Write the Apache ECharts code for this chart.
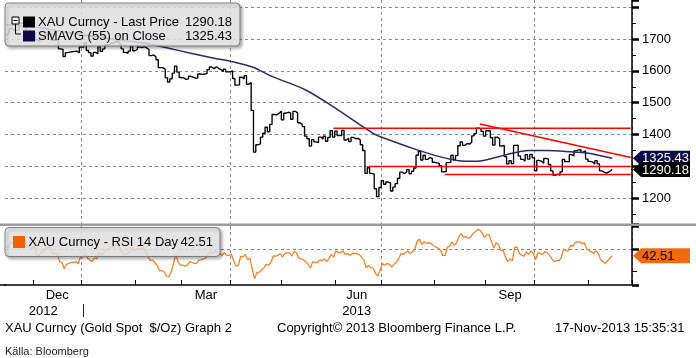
<!DOCTYPE html>
<html><head><meta charset="utf-8">
<script src="https://cdn.jsdelivr.net/npm/echarts@6/dist/echarts.min.js"></script>
<style>html,body{margin:0;padding:0;background:#fff}#c{width:696px;height:358px}</style>
</head><body><div id="c"></div>
<script>
// ---------- DATA ----------
const startDate = '2012-11-15';
const endDate = '2013-11-27';
// daily closes (weekdays)
const closeNov12 = [1714,1714,1733,1727,1728,1728,1751,1748,1742,1717,1727,1712];
const closeDec12 = [1720,1697,1693,1702,1704,1712,1716,1717,1696,1696,1697,1669,1667,1645,1657,1659,1660,1661,1662,1656,1675];
const closeJan13 = [1675,1688,1664,1657,1646,1658,1654,1676,1661,1669,1682,1683,1688,1687,1692,1692,1685,1669,1658,1655,1662,1676,1663];
const closeFeb13 = [1668,1675,1673,1676,1672,1667,1648,1650,1644,1635,1610,1610,1605,1578,1565,1575,1593,1615,1596,1579];
const closeMar13 = [1578,1573,1575,1583,1580,1577,1577,1590,1589,1590,1592,1604,1612,1607,1613,1608,1604,1598,1605,1597,1597];
const closeApr13 = [1600,1576,1555,1556,1580,1575,1585,1558,1563,1476,1345,1368,1371,1392,1404,1423,1409,1432,1463,1462,1467,1473];
const closeMay13 = [1446,1467,1470,1468,1448,1473,1468,1437,1433,1425,1395,1387,1364,1384,1377,1375,1392,1386,1395,1379,1391,1412,1392];
const closeJun13 = [1411,1397,1397,1413,1383,1388,1378,1391,1387,1388,1383,1368,1350,1278,1296,1278,1276,1230,1205,1234];
const closeJul13 = [1255,1244,1251,1248,1223,1235,1246,1263,1282,1277,1283,1290,1277,1285,1295,1335,1347,1320,1335,1322,1328,1325,1313];
const closeAug13 = [1311,1310,1302,1283,1284,1312,1313,1335,1321,1334,1365,1377,1366,1372,1370,1376,1396,1403,1420,1418,1410,1395];
const closeSep13 = [1412,1412,1390,1367,1392,1387,1364,1366,1331,1308,1318,1309,1366,1367,1333,1322,1317,1337,1323,1338,1327];
const closeOct13 = [1286,1319,1316,1310,1325,1323,1306,1286,1272,1276,1273,1283,1322,1315,1315,1337,1333,1349,1352,1353,1345,1349,1323];
const closeNov13 = [1316,1314,1308,1318,1308,1286,1282,1279,1283,1287,1290.18];

// SMAVG(55) read at selected dates
const maDates  = ['2012-11-15','2012-12-03','2012-12-17','2013-01-02','2013-01-15','2013-01-28','2013-02-08','2013-02-21','2013-03-06','2013-03-19','2013-04-02','2013-04-12','2013-04-25','2013-05-15','2013-06-04','2013-06-25','2013-07-04','2013-07-22','2013-08-05','2013-08-15','2013-08-26','2013-09-02','2013-09-12','2013-09-26','2013-10-08','2013-10-22','2013-10-31','2013-11-07','2013-11-15'];
const maValues = [1745,1738,1726,1712,1703,1694,1685,1671,1656,1642,1628,1612,1581,1540,1477,1404,1383,1352,1330,1318,1316,1321,1336,1350,1350,1346,1342,1335,1325.43];

// RSI 14 day
const rsiNov12 = [52,52,58,56,56,56,63,62,60,52,55,50];
const rsiDec12 = [53,44,42,46,47,50,52,52,45,45,45,36,35,28,33,34,35,35,36,34,41];
const rsiJan13 = [41,46,40,38,36,40,39,46,43,45,49,50,52,52,54,54,51,46,44,44,47,51,48];
const rsiFeb13 = [49,51,50,51,48,42,37,38,35,32,26,26,25,20,19,24,33,44,36,32];
const rsiMar13 = [32,31,32,36,35,34,34,38,38,39,40,44,47,45,48,46,45,43,46,43,43];
const rsiApr13 = [44,37,31,32,42,41,44,38,40,27,17,24,24,27,29,33,32,35,42,42,43,45];
const rsiMay13 = [41,45,46,46,42,47,46,40,39,38,36,33,29,36,35,35,38,37,39,36,39,44,41];
const rsiJun13 = [48,46,46,48,44,45,43,45,45,45,44,41,38,29,32,29,29,23,20,26];
const rsiJul13 = [34,32,34,33,30,33,35,39,45,44,46,48,45,47,50,59,61,55,58,56,57,56,54];
const rsiAug13 = [52,51,49,43,43,52,53,58,54,57,64,67,63,64,62,63,67,69,72,71,68,63];
const rsiSep13 = [66,66,58,51,57,55,48,49,41,36,39,37,52,52,45,43,42,47,44,48,45];
const rsiOct13 = [38,46,45,44,47,46,43,39,36,37,37,40,50,48,48,54,53,57,58,58,56,57,50];
const rsiNov13 = [48,47,45,48,45,38,36,34,37,40,42.51];

// red study lines (date, price)
const levelTopDates = ['2013-05-31','2013-11-27'];   const levelTopValues = [1420,1420];
const levelMidDates = ['2013-06-21','2013-11-27'];   const levelMidValues = [1300,1300];
const levelLowDates = ['2013-08-07','2013-11-27'];   const levelLowValues = [1275,1275];
const trendDates    = ['2013-08-28','2013-11-27'];   const trendValues    = [1433,1328];

// axis labels
const monthLabelDates = ['2012-12-17','2013-03-15','2013-06-14','2013-09-16'];
const monthLabelTexts = ['Dec','Mar','Jun','Sep'];
const yearLabelDates  = ['2012-12-07','2013-06-14'];
const yearLabelTexts  = ['2012','2013'];
const yearBoundaryDate = '2013-01-01';

// ---------- BUILD ----------
function weekdays(s, e){
  const out=[]; let d=new Date(s+'T00:00:00Z'); const end=new Date(e+'T00:00:00Z');
  while(d<=end){ const w=d.getUTCDay(); if(w!==0&&w!==6) out.push(d.toISOString().slice(0,10)); d=new Date(d.getTime()+86400000); }
  return out;
}
const cats = weekdays(startDate, endDate);
const idx = {}; cats.forEach((d,i)=>idx[d]=i);
const closes = [].concat(closeNov12,closeDec12,closeJan13,closeFeb13,closeMar13,closeApr13,closeMay13,closeJun13,closeJul13,closeAug13,closeSep13,closeOct13,closeNov13);
const rsi = [].concat(rsiNov12,rsiDec12,rsiJan13,rsiFeb13,rsiMar13,rsiApr13,rsiMay13,rsiJun13,rsiJul13,rsiAug13,rsiSep13,rsiOct13,rsiNov13);
const pairs = (ds, vs) => ds.map((d,i)=>[idx[d], vs[i]]);

const monthStart = i => i>0 && cats[i].slice(5,7)!==cats[i-1].slice(5,7);
const quarterStart = i => monthStart(i) && ['01','04','07','10'].indexOf(cats[i].slice(5,7))>=0;
const monthLabelMap = {}; monthLabelDates.forEach((d,i)=>monthLabelMap[idx[d]]=monthLabelTexts[i]);
const yearLabelMap = {}; yearLabelDates.forEach((d,i)=>yearLabelMap[idx[d]]=yearLabelTexts[i]);
const yearBoundaryIdx = idx[yearBoundaryDate];

const FONT = "'Liberation Sans', Arial, sans-serif";
const gridDash = {type:[3,3], color:'#8a8a8a', width:1};

const chart = echarts.init(document.getElementById('c'));
const redLine = (ds, vs) => ({type:'line', xAxisIndex:0, yAxisIndex:0, data: pairs(ds, vs), symbol:'none', silent:true,
  lineStyle:{color:'#ff0000', width:1.5}, z:6, animation:false});

chart.setOption({
  animation:false,
  textStyle:{fontFamily:FONT},
  grid:[
    {left:5, right:64, top:0, height:224},
    {left:5, right:64, top:226, height:59}
  ],
  xAxis:[
    {gridIndex:0, type:'category', data:cats, boundaryGap:true,
     axisLine:{show:false}, axisTick:{show:false}, axisLabel:{show:false},
     splitLine:{show:true, interval:(i)=>quarterStart(i), lineStyle:gridDash}},
    {gridIndex:1, type:'category', data:cats, boundaryGap:true, position:'bottom',
     axisLine:{show:true, lineStyle:{color:'#000', width:1.5}},
     axisTick:{show:true, inside:true, length:5, interval:(i)=>monthStart(i), lineStyle:{color:'#000', width:1}},
     axisLabel:{show:true, interval:(i)=>monthLabelMap[i]!==undefined, formatter:(v,i)=>monthLabelMap[i]||'',
       color:'#000', fontSize:13, fontFamily:FONT, margin:3, lineHeight:15},
     splitLine:{show:true, interval:(i)=>quarterStart(i), lineStyle:gridDash}},
    {gridIndex:1, type:'category', data:cats, boundaryGap:true, position:'bottom', offset:19,
     axisLine:{show:false},
     axisTick:{show:true, alignWithLabel:true, length:13, interval:(i)=>i===yearBoundaryIdx, lineStyle:{color:'#222', width:1}},
     axisLabel:{show:true, interval:(i)=>yearLabelMap[i]!==undefined, formatter:(v,i)=>yearLabelMap[i]||'',
       color:'#000', fontSize:13, fontFamily:FONT, margin:0, lineHeight:15},
     splitLine:{show:false}}
  ],
  yAxis:[
    {gridIndex:0, type:'value', position:'right', min:1119.3, max:1822.4, splitNumber:7,
     axisLine:{show:true, lineStyle:{color:'#000', width:1.5}},
     axisTick:{show:true, length:7, lineStyle:{color:'#000', width:2.5}},
     minorTick:{show:true, splitNumber:2, length:4, lineStyle:{color:'#000', width:1}},
     axisLabel:{color:'#000', fontSize:13, fontFamily:FONT, margin:10,
       formatter:(v)=> (Math.abs(v%100)<1e-6 && v<1800) ? String(v) : ''},
     splitLine:{show:true, showMinLine:false, showMaxLine:false, lineStyle:gridDash}},
    {gridIndex:1, type:'value', position:'right', min:10, max:75.6, splitNumber:1,
     axisLine:{show:true, lineStyle:{color:'#000', width:1.5}},
     axisTick:{show:true, length:7, lineStyle:{color:'#000', width:2.5}},
     minorTick:{show:true, splitNumber:2, length:5, lineStyle:{color:'#000', width:1}},
     axisLabel:{show:false},
     splitLine:{show:true, showMinLine:false, showMaxLine:false, lineStyle:gridDash}}
  ],
  series:[
    {type:'line', name:'XAU', xAxisIndex:0, yAxisIndex:0, data:closes, step:'middle', symbol:'none', silent:true,
     lineStyle:{color:'#000', width:1.35}, z:3},
    {type:'line', name:'SMAVG', xAxisIndex:0, yAxisIndex:0, data:pairs(maDates, maValues), smooth:0.3, symbol:'none', silent:true,
     lineStyle:{color:'#2a2a6a', width:1.5}, z:4},
    redLine(levelTopDates, levelTopValues),
    redLine(levelMidDates, levelMidValues),
    redLine(levelLowDates, levelLowValues),
    redLine(trendDates, trendValues),
    {type:'line', name:'RSI', xAxisIndex:1, yAxisIndex:1, data:rsi, symbol:'none', silent:true,
     lineStyle:{color:'#f5842c', width:1.3}, z:3}
  ]
});

// ---------- overlays (legends, value badges, footer) ----------
const lastClose = closes[closes.length-1];
const lastMA = maValues[maValues.length-1];
const lastRSI = rsi[rsi.length-1];
const yClose = chart.convertToPixel({yAxisIndex:0}, lastClose);
const yMA = chart.convertToPixel({yAxisIndex:0}, lastMA);
const yRSI = chart.convertToPixel({yAxisIndex:1}, lastRSI);

function txt(text, x, y, opts){
  opts = opts||{};
  return {type:'text', x:x, y:y, z:opts.z||120, silent:true,
    style:{text:text, fill:opts.fill||'#000', fontSize:opts.size||13, fontFamily:FONT,
      textAlign:opts.align||'left', textVerticalAlign:'middle'}};
}
function badge(y, fill, textColor, label){
  return [
    {type:'polygon', z:110, silent:true, shape:{points:[[633,y],[641,y-7.5],[690,y-7.5],[690,y+7.5],[641,y+7.5]]},
     style:{fill:fill}},
    txt(label, 642, y+0.5, {fill:textColor, z:111})
  ];
}
const legendBox = (x,y,w,h)=>({type:'rect', z:100, silent:true, shape:{x:x,y:y,width:w,height:h,r:4},
  style:{fill:'rgba(238,238,238,0.8)', stroke:'#7a7a7a', lineWidth:1,
    shadowBlur:3, shadowOffsetX:2, shadowOffsetY:2, shadowColor:'rgba(0,0,0,0.35)'}});

const graphics = [
  {type:'rect', z:90, silent:true, shape:{x:0,y:223.5,width:696,height:2.5}, style:{fill:'#9c9c9c'}},
  {type:'line', z:90, silent:true, shape:{x1:0,y1:285,x2:6,y2:285}, style:{stroke:'#000', lineWidth:1.5}},
  legendBox(5,3,235,43),
  {type:'rect', z:120, silent:true, shape:{x:12,y:17,width:7,height:7}, style:{fill:'rgba(255,255,255,0.5)', stroke:'#000', lineWidth:1}},
  {type:'line', z:121, silent:true, shape:{x1:13.5,y1:20.5,x2:17.5,y2:20.5}, style:{stroke:'#000', lineWidth:1}},
  {type:'polyline', z:120, silent:true, shape:{points:[[15.5,24],[15.5,34],[21,34]]}, style:{stroke:'#000', lineWidth:1, fill:null}},
  {type:'rect', z:120, silent:true, shape:{x:23,y:16.5,width:12,height:11}, style:{fill:'#000'}},
  {type:'rect', z:120, silent:true, shape:{x:23,y:30.5,width:12,height:11}, style:{fill:'#0a0a46'}},
  txt('XAU Curncy - Last Price', 38, 22.5),
  txt(lastClose.toFixed(2), 232, 22.5, {align:'right'}),
  txt('SMAVG (55) on Close', 38, 36.5),
  txt(lastMA.toFixed(2), 232, 36.5, {align:'right'}),
  legendBox(5,227.5,215,29),
  {type:'rect', z:120, silent:true, shape:{x:13,y:236,width:12,height:12}, style:{fill:'#f06000'}},
  txt('XAU Curncy - RSI 14 Day', 28.5, 242),
  txt(lastRSI.toFixed(2), 213, 242, {align:'right'}),
  ...badge(yMA, '#0c0c48', '#fff', lastMA.toFixed(2)),
  ...badge(yClose, '#000', '#fff', lastClose.toFixed(2)),
  ...badge(yRSI, '#f06a10', '#000', lastRSI.toFixed(2)),
  txt('XAU Curncy (Gold Spot  $/Oz) Graph 2', 5, 328.5),
  txt('Copyright\u00A9 2013 Bloomberg Finance L.P.', 277, 328.5),
  txt('17-Nov-2013 15:35:31', 555, 328.5),
  txt('K\u00E4lla: Bloomberg', 5, 351.5, {size:11, fill:'#222'})
];
chart.setOption({graphic: graphics});
</script>
</body></html>
